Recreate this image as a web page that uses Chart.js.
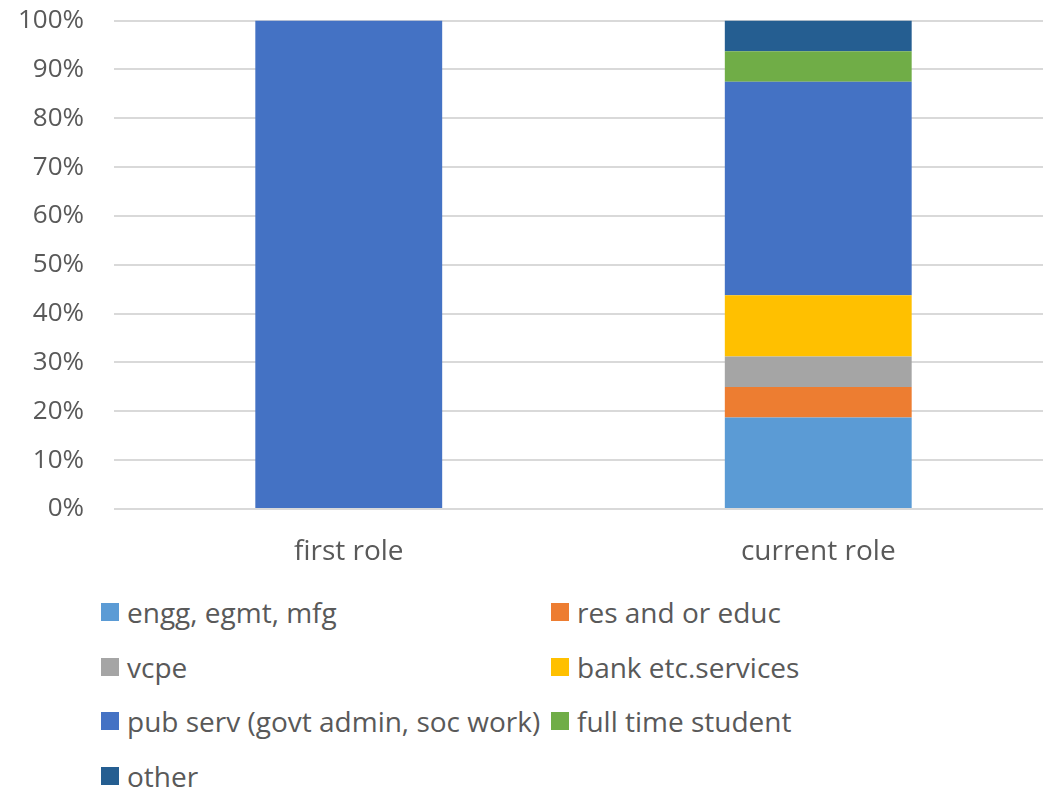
<!DOCTYPE html>
<html>
<head>
<meta charset="utf-8">
<script src="https://cdn.jsdelivr.net/npm/chart.js@4"></script>
<style>
  body { margin: 0; background: #fff; font-family: "Open Sans", "Liberation Sans", sans-serif; overflow: hidden; }
  #wrap { position: relative; width: 1043px; height: 791px; overflow: hidden; }
  #chartBox { position: absolute; left: 0; top: -25px; width: 1053px; height: 605px; }
  #legend { position: absolute; left: 101px; top: 585px; display: grid; grid-template-columns: 450px 460px; row-gap: 0; }
  .item { display: flex; align-items: center; height: 54.5px; font-size: 28px; color: #595959; white-space: nowrap; }
  .box { width: 18px; height: 18px; margin-right: 8px; flex: none; }
</style>
</head>
<body>
<div id="wrap">
  <div id="chartBox"><canvas id="chart"></canvas></div>
  <div id="legend"></div>
</div>
<script>
const categories = ['first role', 'current role'];
const seriesNames = ['engg, egmt, mfg', 'res and or educ', 'vcpe', 'bank etc.services',
                     'pub serv (govt admin, soc work)', 'full time student', 'other'];
const firstRole = [0, 0, 0, 0, 100, 0, 0];
const currentRole = [18.75, 6.25, 6.25, 12.5, 43.75, 6.25, 6.25];
const colors = ['#5B9BD5', '#ED7D31', '#A5A5A5', '#FFC000', '#4472C4', '#70AD47', '#255E91'];
const yTicks = [0, 10, 20, 30, 40, 50, 60, 70, 80, 90, 100];

const datasets = seriesNames.map((name, i) => ({
    label: name,
    data: [firstRole[i], currentRole[i]],
    backgroundColor: colors[i],
    borderWidth: 0,
    categoryPercentage: 1,
    barPercentage: 0.398
}));

const ctx = document.getElementById('chart').getContext('2d');
new Chart(ctx, {
    type: 'bar',
    data: { labels: categories, datasets: datasets },
    options: {
        responsive: true,
        maintainAspectRatio: false,
        animation: false,
        layout: { padding: { top: 0, right: 0, left: 0, bottom: 0 } },
        plugins: {
            legend: { display: false },
            tooltip: { enabled: false }
        },
        scales: {
            x: {
                stacked: true,
                grid: { display: false, drawTicks: false },
                border: { display: false },
                ticks: {
                    color: '#595959',
                    font: { family: '"Open Sans", "Liberation Sans", sans-serif', size: 28 },
                    padding: 26
                },
                afterFit: s => { s.height = 71; }
            },
            y: {
                stacked: true,
                min: 0,
                max: 100,
                afterBuildTicks: s => { s.ticks = yTicks.map(v => ({ value: v })); },
                grid: { color: '#d9d9d9', lineWidth: 2, drawTicks: false },
                border: { display: false },
                ticks: {
                    color: '#595959',
                    font: { family: '"Open Sans", "Liberation Sans", sans-serif', size: 26 },
                    padding: 30,
                    callback: v => v + '%'
                },
                afterFit: s => { s.width = 114; }
            }
        }
    }
});

const legend = document.getElementById('legend');
seriesNames.forEach((name, i) => {
    const item = document.createElement('div');
    item.className = 'item';
    item.innerHTML = '<span class="box" style="background:' + colors[i] + '"></span><span>' + name + '</span>';
    legend.appendChild(item);
});
</script>
</body>
</html>
